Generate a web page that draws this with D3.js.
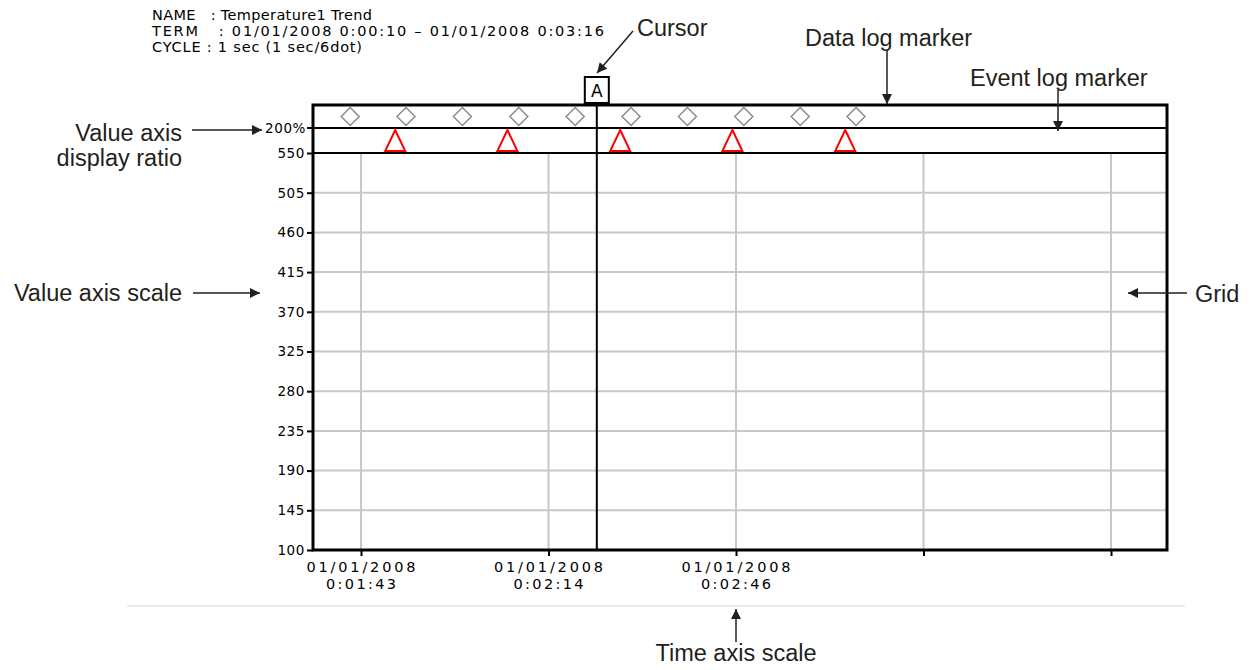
<!DOCTYPE html>
<html><head><meta charset="utf-8">
<script src="https://cdn.jsdelivr.net/npm/d3@7"></script>
<style>
body{margin:0;background:#fff;}
svg{display:block;}
.pix{font-family:"DejaVu Sans",sans-serif;font-size:13px;fill:#000;}
.big{font-size:14.5px;}
.tk{letter-spacing:0.6px;font-size:13.5px;}
.ann{font-family:"Liberation Sans",Arial,Helvetica,sans-serif;font-size:23.5px;fill:#231f20;}
</style></head>
<body>
<script>
// ---- data ----
const headerLines = ["NAME   : Temperature1 Trend", "TERM   : 01/01/2008 0:00:10 \u2013 01/01/2008 0:03:16", "CYCLE : 1 sec (1 sec/6dot)"];
const valueTicks = [550, 505, 460, 415, 370, 325, 280, 235, 190, 145, 100];
const valueDomain = [100, 550];
const ratioLabel = "200%";
const timeDomain = [95, 237.33];           // seconds
const timeTicks = [103, 134.25, 165.5, 196.75, 228];
const timeTickDates = ["01/01/2008", "01/01/2008", "01/01/2008", "", ""];
const timeTickTimes = ["0:01:43", "0:02:14", "0:02:46", "", ""];
const dataLogTimes = [101.2, 110.5, 119.9, 129.3, 138.7, 148.0, 157.4, 166.8, 176.2, 185.5];
const eventLogTimes = [108.7, 127.4, 146.2, 164.9, 183.7];
const cursorTime = 142.3;
const cursorLabel = "A";

// ---- layout ----
const W = 1251, H = 670;
const L = 313, R = 1167, T = 105, row1 = 128, row2 = 153, B = 550;
const headerWidths = [220, 452, 210];

const svg = d3.select("body").append("svg").attr("width", W).attr("height", H);
const defs = svg.append("defs");
defs.append("marker").attr("id", "ah").attr("viewBox", "0 0 10 10").attr("refX", 10).attr("refY", 5)
  .attr("markerWidth", 18).attr("markerHeight", 10).attr("markerUnits", "userSpaceOnUse").attr("orient", "auto")
  .append("path").attr("d", "M0,0 L10,5 L0,10 z").attr("fill", "#231f20");

const x = d3.scaleLinear().domain(timeDomain).range([L, R]);
const y = d3.scaleLinear().domain(valueDomain).range([B, row2]);

// header
svg.append("g").selectAll("text").data(headerLines).join("text")
  .attr("class", "pix big").attr("x", 152).attr("y", (d, i) => 20 + i * 16)
  .attr("textLength", (d, i) => headerWidths[i]).attr("lengthAdjust", "spacing")
  .style("white-space", "pre").text(d => d);

// grid
const g = svg.append("g");
g.selectAll("line.hg").data(valueTicks.filter(v => v !== 550 && v !== 100)).join("line")
  .attr("x1", L).attr("x2", R).attr("y1", d => y(d)).attr("y2", d => y(d))
  .attr("stroke", "#c8c8c8").attr("stroke-width", 2);
g.selectAll("line.vg").data(timeTicks).join("line")
  .attr("x1", d => x(d)).attr("x2", d => x(d)).attr("y1", row2).attr("y2", B)
  .attr("stroke", "#c8c8c8").attr("stroke-width", 2);

// y axis
const yAxis = d3.axisLeft(y).tickValues(valueTicks).tickSize(6).tickPadding(2).tickFormat(d3.format("d"));
const ya = svg.append("g").attr("transform", `translate(${L},0)`).call(yAxis);
ya.select(".domain").remove();
ya.selectAll(".tick line").attr("stroke", "#000").attr("stroke-width", 2);
ya.selectAll(".tick text").attr("class", "pix tk").attr("font-size", null).attr("font-family", null).attr("fill", null);

// ratio label
svg.append("text").attr("class", "pix tk").attr("x", 306).attr("y", row1 + 5).attr("text-anchor", "end").text(ratioLabel);
svg.append("line").attr("x1", L - 6).attr("x2", L).attr("y1", row1).attr("y2", row1).attr("stroke", "#000").attr("stroke-width", 2);

// x axis
const xAxis = d3.axisBottom(x).tickValues(timeTicks).tickSize(6).tickFormat("");
const xa = svg.append("g").attr("transform", `translate(0,${B})`).call(xAxis);
xa.select(".domain").remove();
xa.selectAll(".tick line").attr("stroke", "#000").attr("stroke-width", 2);
const tg = svg.append("g").selectAll("g").data(timeTicks).join("g")
  .attr("transform", d => `translate(${x(d)},0)`);
tg.filter((d, i) => timeTickDates[i]).append("text").attr("class", "pix big").attr("text-anchor", "middle")
  .attr("x", 0).attr("y", 572).attr("textLength", 109).attr("lengthAdjust", "spacing").text((d, i) => timeTickDates[i]);
tg.filter((d, i) => timeTickTimes[i]).append("text").attr("class", "pix big").attr("text-anchor", "middle")
  .attr("x", 0).attr("y", 589).attr("textLength", 70).attr("lengthAdjust", "spacing").text((d, i) => timeTickTimes[i]);

// row lines & frame
svg.append("line").attr("x1", L).attr("x2", R).attr("y1", row1).attr("y2", row1).attr("stroke", "#000").attr("stroke-width", 2);
svg.append("line").attr("x1", L).attr("x2", R).attr("y1", row2).attr("y2", row2).attr("stroke", "#000").attr("stroke-width", 2);
svg.append("rect").attr("x", L).attr("y", T).attr("width", R - L).attr("height", B - T)
  .attr("fill", "none").attr("stroke", "#000").attr("stroke-width", 3);

// data log markers (diamonds)
svg.append("g").selectAll("path").data(dataLogTimes).join("path")
  .attr("d", d => { const cx = x(d), cy = 116.5; return `M${cx},${cy - 9}L${cx + 9},${cy}L${cx},${cy + 9}L${cx - 9},${cy}Z`; })
  .attr("fill", "none").attr("stroke", "#8c8c8c").attr("stroke-width", 1.5);

// event log markers (triangles)
svg.append("g").selectAll("path").data(eventLogTimes).join("path")
  .attr("d", d => { const cx = x(d); return `M${cx},${130}L${cx + 10},${151}L${cx - 10},${151}Z`; })
  .attr("fill", "none").attr("stroke", "#ff0000").attr("stroke-width", 2);

// cursor
const cx = x(cursorTime);
svg.append("line").attr("x1", cx).attr("x2", cx).attr("y1", 103).attr("y2", B).attr("stroke", "#000").attr("stroke-width", 2);
svg.append("rect").attr("x", cx - 12).attr("y", 77).attr("width", 24).attr("height", 26)
  .attr("fill", "#fff").attr("stroke", "#000").attr("stroke-width", 2);
svg.append("text").attr("class", "pix").attr("x", cx).attr("y", 97).attr("text-anchor", "middle").style("font-size", "17px").text(cursorLabel);

// bottom separator
svg.append("line").attr("x1", 127).attr("x2", 1185).attr("y1", 606).attr("y2", 606).attr("stroke", "#e8e4d6").attr("stroke-width", 1.5);

// annotations
const ann = svg.append("g");
function arrow(x1, y1, x2, y2) {
  ann.append("line").attr("x1", x1).attr("y1", y1).attr("x2", x2).attr("y2", y2)
    .attr("stroke", "#231f20").attr("stroke-width", 1.5).attr("marker-end", "url(#ah)");
}
function label(t, xx, yy, anchor) {
  ann.append("text").attr("class", "ann").attr("x", xx).attr("y", yy).attr("text-anchor", anchor || "start").text(t);
}
label("Cursor", 637, 36);
arrow(633, 31, 597, 73);
label("Data log marker", 805, 46);
arrow(887, 50, 887, 104);
label("Event log marker", 970, 86);
arrow(1058, 90, 1058, 131);
label("Value axis", 182, 141, "end");
label("display ratio", 182, 166, "end");
arrow(192, 130, 262, 130);
label("Value axis scale", 182, 301, "end");
arrow(193, 293, 260, 293);
label("Grid", 1195, 302);
arrow(1187, 293, 1128, 293);
label("Time axis scale", 736, 661, "middle");
arrow(736, 642, 736, 609);
</script>
</body></html>
